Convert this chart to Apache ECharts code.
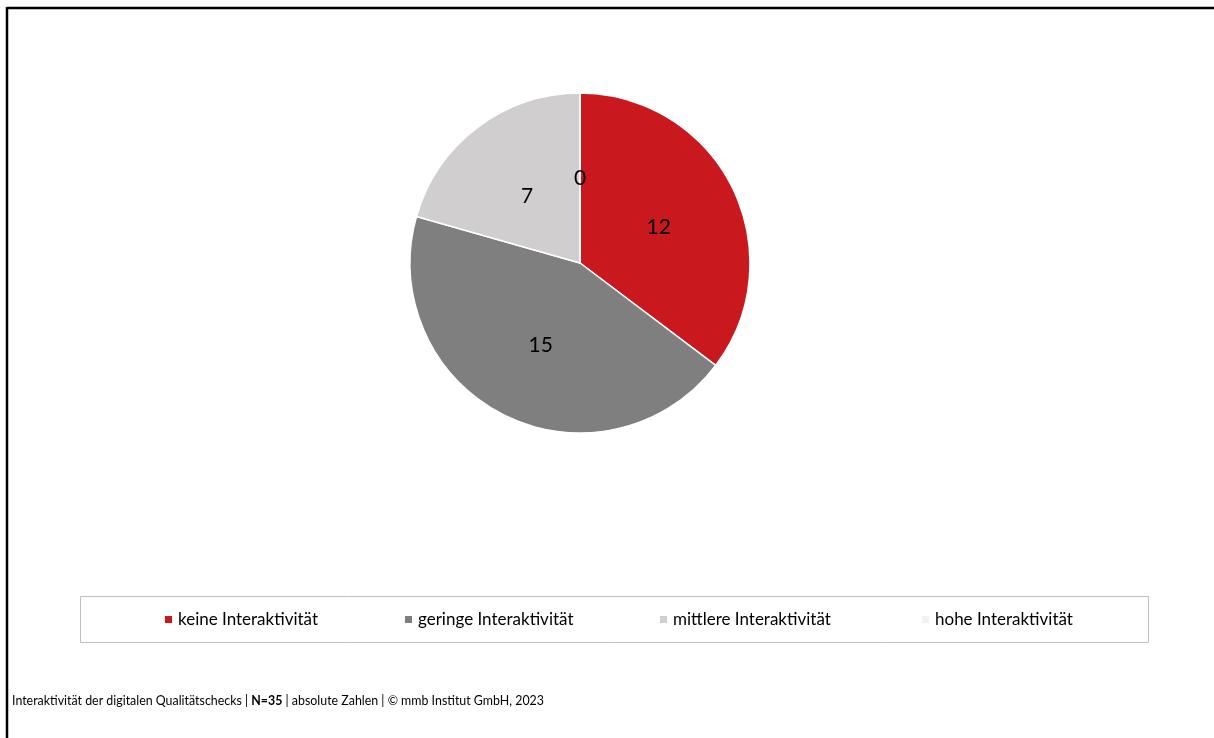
<!DOCTYPE html>
<html><head><meta charset="utf-8">
<script src="https://cdn.jsdelivr.net/npm/echarts@6/dist/echarts.min.js"></script>
<style>html,body{margin:0;padding:0;background:#fff}#c{width:1214px;height:738px}</style>
</head><body><div id="c"></div>
<script>
const categories = ['keine Interaktivität', 'geringe Interaktivität', 'mittlere Interaktivität', 'hohe Interaktivität'];
const values = [12, 15, 7, 0];
const colors = ['#CA191E', '#7F7F7F', '#D0CECE', '#F2F2F2'];
const legendLefts = [163, 403, 658, 920];
const footer = ['Interaktivität der digitalen Qualitätschecks | ', 'N=35', ' | absolute Zahlen | © mmb Institut GmbH, 2023'];

const FONT = 'Lato';
const chart = echarts.init(document.getElementById('c'), null, {renderer: 'canvas'});
chart.setOption({
  backgroundColor: '#fff',
  animation: false,
  color: colors,
  textStyle: {fontFamily: FONT},
  title: {
    left: 12, top: 695, padding: 0,
    text: '{a|' + footer[0] + '}{b|' + footer[1] + '}{a|' + footer[2] + '}',
    textStyle: {
      fontWeight: 'normal',
      rich: {
        a: {fontFamily: FONT, fontSize: 12.4, color: '#000', fontWeight: 'normal'},
        b: {fontFamily: FONT, fontSize: 12.4, color: '#000', fontWeight: 'bold'}
      }
    }
  },
  legend: categories.map((c, i) => ({
    data: [c], left: legendLefts[i], top: 611, icon: 'rect',
    itemWidth: 9, itemHeight: 9, itemGap: 0, padding: 0,
    textStyle: {fontFamily: FONT, fontSize: 17, color: '#000'},
    selectedMode: false
  })),
  graphic: [
    {type: 'rect', shape: {x: 80.5, y: 596.5, width: 1068, height: 46}, style: {fill: 'none', stroke: '#BFBFBF', lineWidth: 1}, z: -1},
    {type: 'line', shape: {x1: 7, y1: 8, x2: 1214, y2: 8}, style: {stroke: '#000', lineWidth: 2.5}},
    {type: 'line', shape: {x1: 7, y1: 7, x2: 7, y2: 738}, style: {stroke: '#000', lineWidth: 2.5}}
  ],
  series: [{
    type: 'pie',
    center: [580, 263],
    radius: 170,
    startAngle: 90,
    clockwise: true,
    avoidLabelOverlap: false,
    stillShowZeroSum: true,
    minShowLabelAngle: 0,
    itemStyle: {borderColor: '#fff', borderWidth: 1.5},
    label: {show: true, position: 'inside', formatter: '{c}', fontFamily: FONT, fontSize: 21, color: '#000', offset: [0, 3]},
    labelLine: {show: false},
    emphasis: {disabled: true},
    data: categories.map((c, i) => ({name: c, value: values[i]}))
  }]
});
</script></body></html>
